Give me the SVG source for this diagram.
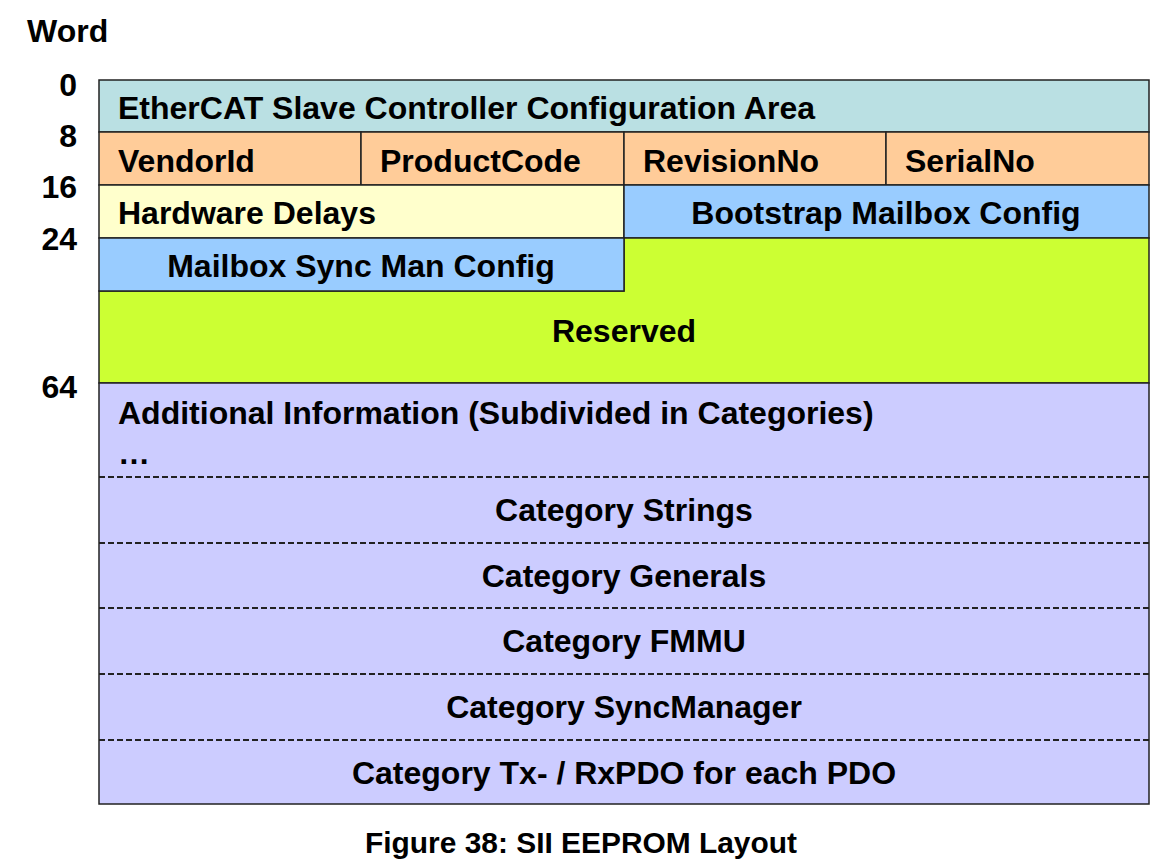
<svg xmlns="http://www.w3.org/2000/svg" width="1167" height="860" viewBox="0 0 1167 860">
<style>
text{font-family:"Liberation Sans",Arial,sans-serif;font-weight:bold;font-size:32px;fill:#000}
.c{text-anchor:middle}
.r{text-anchor:end}
.b{stroke:#222;stroke-width:1.5}
.d{stroke:#222;stroke-width:2;stroke-dasharray:6 3;fill:none}
</style>
<rect width="1167" height="860" fill="#fff"/>
<g id="axis">
<text x="27" y="42">Word</text>
<text class="r" x="77" y="96">0</text>
<text class="r" x="77" y="147">8</text>
<text class="r" x="77" y="198">16</text>
<text class="r" x="77" y="250">24</text>
<text class="r" x="77" y="398">64</text>
</g>
<g id="esc-config">
<rect class="b" x="99" y="80" width="1050" height="52" fill="#BAE0E3"/>
<text x="118" y="119">EtherCAT Slave Controller Configuration Area</text>
</g>
<g id="vendorid">
<rect class="b" x="99" y="132" width="262" height="53" fill="#FFCC99"/>
<text x="118" y="172">VendorId</text>
</g>
<g id="productcode">
<rect class="b" x="361" y="132" width="263" height="53" fill="#FFCC99"/>
<text x="380" y="172">ProductCode</text>
</g>
<g id="revisionno">
<rect class="b" x="624" y="132" width="262" height="53" fill="#FFCC99"/>
<text x="643" y="172">RevisionNo</text>
</g>
<g id="serialno">
<rect class="b" x="886" y="132" width="263" height="53" fill="#FFCC99"/>
<text x="905" y="172">SerialNo</text>
</g>
<g id="hardware-delays">
<rect class="b" x="99" y="185" width="525" height="53" fill="#FFFFCC"/>
<text x="118" y="224">Hardware Delays</text>
</g>
<g id="bootstrap">
<rect class="b" x="624" y="185" width="525" height="53" fill="#99CCFF"/>
<text class="c" x="886" y="224">Bootstrap Mailbox Config</text>
</g>
<g id="reserved">
<path class="b" d="M624 238 H1149 V383 H99 V291 H624 Z" fill="#CCFF33"/>
<text class="c" x="624" y="342">Reserved</text>
</g>
<g id="mailbox-sm">
<rect class="b" x="99" y="238" width="525" height="53" fill="#99CCFF"/>
<text class="c" x="361" y="277">Mailbox Sync Man Config</text>
</g>
<g id="additional">
<rect class="b" x="99" y="383" width="1050" height="421" fill="#CCCCFF"/>
<text x="118" y="424">Additional Information (Subdivided in Categories)</text>
<text x="118" y="464">…</text>
</g>
<g id="connectors">
<line class="d" x1="99" y1="477" x2="1149" y2="477"/>
<line class="d" x1="99" y1="543" x2="1149" y2="543"/>
<line class="d" x1="99" y1="608" x2="1149" y2="608"/>
<line class="d" x1="99" y1="674" x2="1149" y2="674"/>
<line class="d" x1="99" y1="740" x2="1149" y2="740"/>
</g>
<g id="cat-strings"><text class="c" x="624" y="521">Category Strings</text></g>
<g id="cat-generals"><text class="c" x="624" y="587">Category Generals</text></g>
<g id="cat-fmmu"><text class="c" x="624" y="652">Category FMMU</text></g>
<g id="cat-sm"><text class="c" x="624" y="718">Category SyncManager</text></g>
<g id="cat-pdo"><text class="c" x="624" y="784">Category Tx- / RxPDO for each PDO</text></g>
<g id="caption"><text class="c" x="581" y="853" style="font-size:29px" textLength="432" lengthAdjust="spacingAndGlyphs">Figure 38: SII EEPROM Layout</text></g>
</svg>
